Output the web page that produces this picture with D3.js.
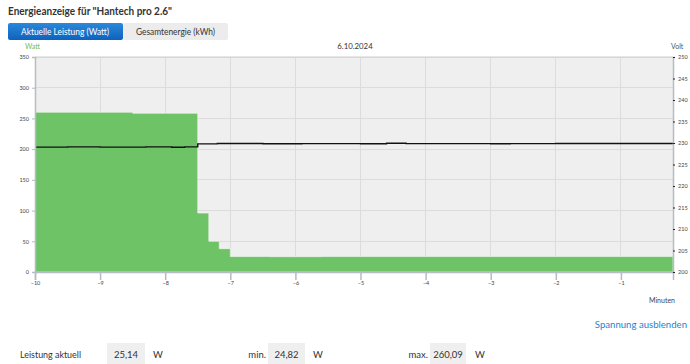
<!DOCTYPE html>
<html><head><meta charset="utf-8">
<script src="https://cdn.jsdelivr.net/npm/d3@7"></script>
<style>
html,body{margin:0;padding:0;background:#fff;}
svg{display:block;font-family:Lato,"Open Sans",sans-serif;}
</style></head>
<body><svg id="c" width="690" height="364"></svg>
<script>
// ---- data ----
const title = 'Energieanzeige für "Hantech pro 2.6"';
const tabs = ["Aktuelle Leistung (Watt)", "Gesamtenergie (kWh)"];
const dateLabel = "6.10.2024";
// power (W), step-after, minutes relative to now
const powerTimes  = [-10, -8.5, -7.5, -7.33, -7.17, -7.0, -6.4, -5.6, -0.2];
const powerValues = [260.09, 258.5, 96, 50, 38, 25.1, 24.9, 25.14, 25.14];
// voltage (V), step-after
const voltTimes  = [-10, -9.5, -9.0, -8.3, -7.9, -7.7, -7.5, -7.2, -6.5, -5.9, -5.0, -4.6, -4.3, -3.0, -2.7, -2.0, -0.2];
const voltValues = [229.05, 229.1, 229.05, 229.1, 229.0, 229.1, 229.8, 229.88, 229.82, 229.86, 229.82, 229.95, 229.86, 229.82, 229.86, 229.9, 229.9];
const xTicks = [-10, -9, -8, -7, -6, -5, -4, -3, -2, -1];
const wattTicks = [0, 50, 100, 150, 200, 250, 300, 350];
const voltTicks = [200, 205, 210, 215, 220, 225, 230, 235, 240, 245, 250];
const stats = [["Leistung aktuell", "25,14"], ["min.", "24,82"], ["max.", "260,09"]];
const unit = "W";

// ---- drawing ----
const svg = d3.select("#c");
const L = 35, R = 673, T = 57, B = 272;
const x = d3.scaleLinear().domain([-10, -0.2]).range([L, R]);
const yW = d3.scaleLinear().domain([0, 350]).range([B, T]);
const yV = d3.scaleLinear().domain([200, 250]).range([B, T]);

function fit(sel, w) {
  sel.attr("textLength", w).attr("lengthAdjust", "spacingAndGlyphs");
  return sel;
}

// title
fit(svg.append("text").attr("x", 8).attr("y", 14.5).attr("font-size", 11.5).attr("font-weight", 700)
  .attr("fill", "#333").text(title), 164);

// tabs
const defs = svg.append("defs");
const g = defs.append("linearGradient").attr("id", "tabg").attr("x1", 0).attr("y1", 0).attr("x2", 0).attr("y2", 1);
g.append("stop").attr("offset", "0%").attr("stop-color", "#2b88da");
g.append("stop").attr("offset", "100%").attr("stop-color", "#0d62bd");
svg.append("rect").attr("x", 123).attr("y", 23).attr("width", 105).attr("height", 17).attr("rx", 2).attr("fill", "#ececec");
svg.append("rect").attr("x", 8).attr("y", 23).attr("width", 115).attr("height", 17).attr("rx", 2).attr("fill", "url(#tabg)");
fit(svg.append("text").attr("x", 21).attr("y", 35).attr("font-size", 9.6)
  .attr("fill", "#fff").text(tabs[0]), 88);
fit(svg.append("text").attr("x", 136).attr("y", 35).attr("font-size", 9.6)
  .attr("fill", "#333").text(tabs[1]), 79);

// labels above plot
svg.append("text").attr("x", 25).attr("y", 49).attr("font-size", 7).attr("fill", "#6cba5c").text("Watt");
svg.append("text").attr("x", 671).attr("y", 49).attr("font-size", 7).attr("fill", "#555").text("Volt");
svg.append("text").attr("x", 355).attr("y", 49).attr("text-anchor", "middle").attr("font-size", 7.8).attr("fill", "#333").text(dateLabel);

// plot background
svg.append("rect").attr("x", L).attr("y", T).attr("width", R - L).attr("height", B - T).attr("fill", "#efefef");

// grid
svg.append("g").selectAll("line").data(wattTicks.filter(d => d > 0)).join("line")
  .attr("x1", L).attr("x2", R).attr("y1", d => yW(d)).attr("y2", d => yW(d))
  .attr("stroke", "#dcdcdc").attr("stroke-width", 1).attr("shape-rendering", "crispEdges");
svg.append("g").selectAll("line").data(xTicks.filter(d => d > -10)).join("line")
  .attr("x1", d => x(d)).attr("x2", d => x(d)).attr("y1", T).attr("y2", B)
  .attr("stroke", "#dcdcdc").attr("stroke-width", 1).attr("shape-rendering", "crispEdges");

// power area
const pData = powerTimes.map((t, i) => ({t, v: powerValues[i]}));
const area = d3.area().curve(d3.curveStepAfter).x(d => x(d.t)).y0(yW(0)).y1(d => yW(d.v));
svg.append("path").datum(pData).attr("d", area).attr("fill", "#6dc365")
  .attr("stroke", "#f4f8f2").attr("stroke-width", 0.8).attr("stroke-opacity", 0.8);

// voltage line
const vData = voltTimes.map((t, i) => ({t, v: voltValues[i]}));
const line = d3.line().curve(d3.curveStepAfter).x(d => x(d.t)).y(d => yV(d.v));
svg.append("path").datum(vData).attr("d", line).attr("fill", "none").attr("stroke", "#111").attr("stroke-width", 1.4);

// top border
svg.append("line").attr("x1", L).attr("x2", R).attr("y1", T).attr("y2", T).attr("stroke", "#cfcfcf").attr("stroke-width", 1);

// axes
const axisCol = "#b4bcc4";
const ax = svg.append("g").attr("transform", `translate(0,${B})`)
  .call(d3.axisBottom(x).tickValues(xTicks).tickSize(8).tickFormat(d3.format("d")));
ax.select(".domain").attr("stroke", axisCol).attr("stroke-width", 1.5);
ax.selectAll(".tick line").attr("stroke", axisCol).attr("stroke-width", 1.5);
ax.selectAll(".tick text").attr("font-size", 5.5).attr("fill", "#444").attr("dy", "0.4em").attr("font-family", "Lato");

const ayL = svg.append("g").attr("transform", `translate(${L},0)`)
  .call(d3.axisLeft(yW).tickValues(wattTicks).tickSize(3).tickPadding(3));
ayL.select(".domain").attr("stroke", axisCol).attr("stroke-width", 1.5);
ayL.selectAll(".tick line").attr("stroke", axisCol);
ayL.selectAll(".tick text").attr("font-size", 5.5).attr("fill", "#444").attr("font-family", "Lato");

const ayR = svg.append("g").attr("transform", `translate(${R},0)`)
  .call(d3.axisRight(yV).tickValues(voltTicks).tickSize(2).tickPadding(3));
ayR.select(".domain").attr("stroke", axisCol).attr("stroke-width", 1.5);
ayR.selectAll(".tick line").attr("stroke", "#222");
ayR.selectAll(".tick text").attr("font-size", 5.5).attr("fill", "#444").attr("font-family", "Lato");

// x title
svg.append("text").attr("x", 675).attr("y", 303).attr("text-anchor", "end").attr("font-size", 7).attr("fill", "#444").text("Minuten");

// link
svg.append("text").attr("x", 687).attr("y", 328).attr("text-anchor", "end").attr("font-size", 9.6).attr("fill", "#1f82d2").text("Spannung ausblenden");

// stats row
const statX = [{lab: 20, box: 107, bw: 38, w: 153, anchor: "start"},
               {lab: 266, box: 268, bw: 37, w: 313, anchor: "end"},
               {lab: 428, box: 430, bw: 36, w: 475, anchor: "end"}];
stats.forEach((s, i) => {
  const p = statX[i];
  const t = svg.append("text").attr("x", p.lab).attr("y", 358).attr("text-anchor", p.anchor).attr("font-size", 9.5).attr("fill", "#333").text(s[0]);
  if (i === 0) fit(t, 61);
  svg.append("rect").attr("x", p.box).attr("y", 343).attr("width", p.bw).attr("height", 24).attr("fill", "#efefef");
  svg.append("text").attr("x", p.box + p.bw / 2).attr("y", 358).attr("text-anchor", "middle").attr("font-size", 9.5).attr("fill", "#333").text(s[1]);
  svg.append("text").attr("x", p.w).attr("y", 358).attr("font-size", 9.5).attr("fill", "#333").text(unit);
});
</script></body></html>
